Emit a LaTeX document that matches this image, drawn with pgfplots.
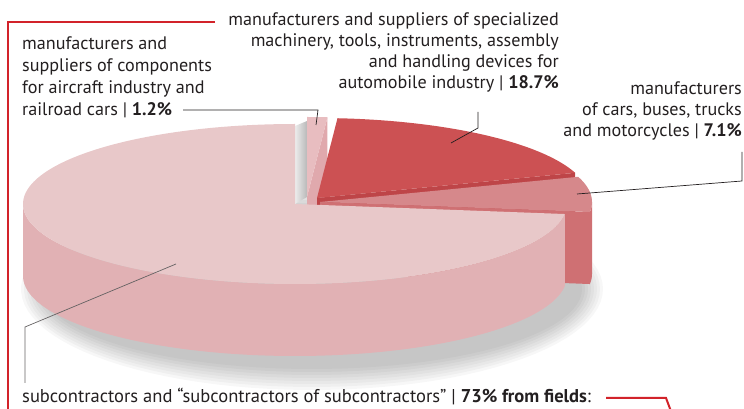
\documentclass[border=0pt]{standalone}
\usepackage{pgfplots}
\pgfplotsset{compat=1.18}
\usepgfplotslibrary{fillbetween}
\usepackage{fontspec}
\setmainfont{PT Sans}
\definecolor{txt}{HTML}{231F20}
\definecolor{redline}{HTML}{D2232A}
\definecolor{topA}{HTML}{E8C8C9}
\definecolor{sideA}{HTML}{E1B1B4}
\definecolor{topB}{HTML}{D6888B}
\definecolor{sideB}{HTML}{CF7073}
\definecolor{topC}{HTML}{CC5153}
\definecolor{sideC}{HTML}{BE4548}
\definecolor{topD}{HTML}{E8BDC0}
\definecolor{sideD}{HTML}{E0A9AD}
% shares of the pie (percent)
\def\pA{73.0}% subcontractors
\def\pB{7.1}% cars, buses, trucks, motorcycles
\def\pC{18.7}% machinery, tools for automobile industry
\def\pD{1.2}% aircraft and railroad components
\begin{document}
\begin{tikzpicture}
\pgfmathsetmacro\aA{90}
\pgfmathsetmacro\aB{90+3.6*\pA}
\pgfmathsetmacro\aC{\aB+3.6*\pB}
\pgfmathsetmacro\aD{\aC+3.6*\pC}
\pgfmathsetmacro\aE{\aD+3.6*\pD}
\pgfmathsetmacro\Bx{320+272*cos(\aB)}
\pgfmathsetmacro\By{207+80*sin(\aB)}
\pgfmathsetmacro\Byb{\By-72}
\pgfmathsetmacro\Cx{317+272*cos(\aC)}
\pgfmathsetmacro\Cy{211+80*sin(\aC)}
\pgfmathsetmacro\Cyb{\Cy-72}
\pgfmathsetmacro\Dx{307+272*cos(\aD)}
\pgfmathsetmacro\Dy{212+80*sin(\aD)}
\pgfmathsetmacro\Dyb{\Dy-72}
\tikzset{lab/.style={font=\fontsize{18.2}{21}\selectfont, text=txt, inner sep=0pt}}
\begin{axis}[scale only axis, width=744bp, height=409bp,
  xmin=0, xmax=744, ymin=0, ymax=409, hide axis, clip=false,
  at={(0,0)}, anchor=south west, fill between/on layer=main]
% soft shadow
\pgfplotsinvokeforeach{0,1,2,3,4,5,6,7}{
  \addplot[fill=black, fill opacity=0.03, draw=none, domain=0:360, samples=100]
    ({312+(270+3*#1)*cos(x)}, {120+(80+3*#1)*sin(x)}) -- cycle;
}
% gap shading
\addplot[draw=none, left color=gray!15, right color=gray!55] coordinates {(295,205) (295,283) (307,288) (307,212)} -- cycle;
% slice D (1.2%)
\addplot[fill=sideD, draw=none] coordinates {(307,212) (\Dx,\Dy) (\Dx,\Dyb) (307,140)} -- cycle;
\addplot[fill=topD, draw=none, domain=\aD:\aE, samples=20] ({307+272*cos(x)},{212+80*sin(x)}) -- (axis cs:307,212) -- cycle;
% slice C (18.7%)
\addplot[fill=sideC, draw=none] coordinates {(317,211) (\Cx,\Cy) (\Cx,\Cyb) (317,139)} -- cycle;
\addplot[fill=topC, draw=none, domain=\aC:\aD, samples=80] ({317+272*cos(x)},{211+80*sin(x)}) -- (axis cs:317,211) -- cycle;
% slice B (7.1%)
\addplot[fill=sideB, draw=none] coordinates {(320,207) (\Bx,\By) (\Bx,\Byb) (320,135)} -- cycle;
\addplot[name path=bt, draw=none, domain=\aB:360, samples=20] ({320+272*cos(x)},{207+80*sin(x)});
\addplot[name path=bb, draw=none, domain=\aB:360, samples=20] ({320+272*cos(x)},{135+80*sin(x)});
\addplot[fill=sideB, draw=none] fill between[of=bt and bb];
\addplot[fill=topB, draw=none, domain=\aB:\aC, samples=40] ({320+272*cos(x)},{207+80*sin(x)}) -- (axis cs:320,207) -- cycle;
% slice A (73%)
\addplot[name path=at, draw=none, domain=180:\aB, samples=120] ({295+272*cos(x)},{205+80*sin(x)});
\addplot[name path=ab, draw=none, domain=180:\aB, samples=120] ({295+272*cos(x)},{133+80*sin(x)});
\addplot[fill=sideA, draw=none] fill between[of=at and ab];
\addplot[fill=topA, draw=none, domain=\aA:\aB, samples=200] ({295+272*cos(x)},{205+80*sin(x)}) -- (axis cs:295,205) -- cycle;
% leader lines
\addplot[txt, line width=0.7bp, mark=none] coordinates {(183,299) (318,299) (316,284)};
\addplot[txt, line width=0.7bp, mark=none] coordinates {(478,297) (478,281) (451,266)};
\addplot[txt, line width=0.7bp, mark=none] coordinates {(742,257) (742,228) (577,215)};
\addplot[txt!70, line width=0.7bp, mark=none] coordinates {(176,145) (25,82) (25,26)};
% red frame lines
\addplot[redline, line width=2bp, mark=none] coordinates {(215,387) (8,387) (8,-5)};
\addplot[redline, line width=2bp, mark=none] coordinates {(606,11) (666,11) (672,-5)};
% labels
\node[lab, anchor=base east] at (axis cs:559,383) {manufacturers and suppliers of specialized};
\node[lab, anchor=base east] at (axis cs:559,362) {machinery, tools, instruments, assembly};
\node[lab, anchor=base east] at (axis cs:559,341) {and handling devices for};
\node[lab, anchor=base east] at (axis cs:559,320) {automobile industry | \textbf{18.7\%}};
\node[lab, anchor=base west] at (axis cs:22,359) {manufacturers and};
\node[lab, anchor=base west] at (axis cs:22,337) {suppliers of components};
\node[lab, anchor=base west] at (axis cs:22,315) {for aircraft industry and};
\node[lab, anchor=base west] at (axis cs:22,293) {railroad cars | \textbf{1.2\%}};
\node[lab, anchor=base east] at (axis cs:742,314) {manufacturers};
\node[lab, anchor=base east] at (axis cs:742,293) {of cars, buses, trucks};
\node[lab, anchor=base east] at (axis cs:742,272) {and motorcycles | \textbf{7.1\%}};
\node[lab, anchor=base west, font=\fontsize{18.6}{21}\selectfont] at (axis cs:22,7) {subcontractors and “subcontractors of subcontractors” | \textbf{73\% from fields}:};
\end{axis}
\pgfresetboundingbox
\path[use as bounding box] (0,0) rectangle (744bp,409bp);
\end{tikzpicture}
\end{document}
